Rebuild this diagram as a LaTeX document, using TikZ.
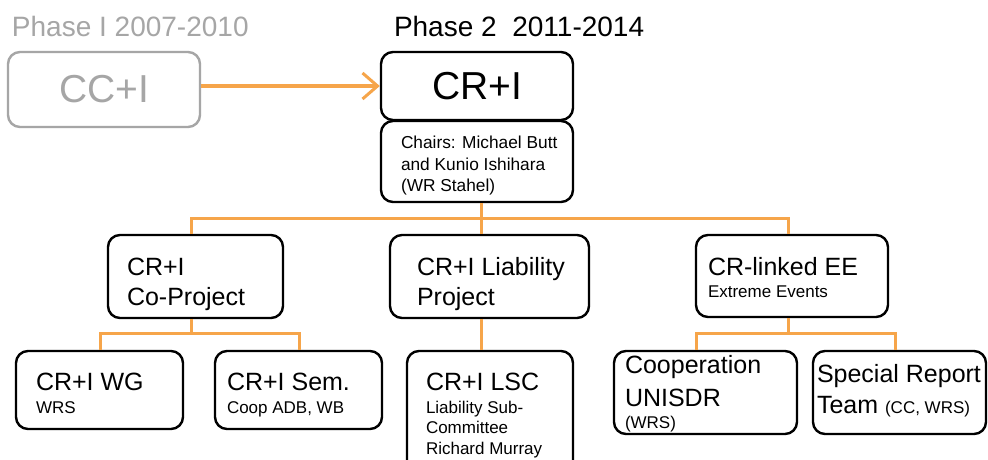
\documentclass[tikz,border=0pt]{standalone}
\usepackage{fontspec}
\setmainfont{Liberation Sans}
\usetikzlibrary{arrows.meta}
\definecolor{orgline}{HTML}{F6A54A}
\definecolor{phgray}{HTML}{A6A6A6}
\newcommand{\fbig}{\fontsize{39}{46}\selectfont}
\newcommand{\fphase}{\fontsize{28}{33}\selectfont}
\newcommand{\fmid}{\fontsize{25}{30}\selectfont}
\newcommand{\fsmall}{\fontsize{17}{20}\selectfont}
\newcommand{\fchair}{\fontsize{17.3}{21}\selectfont}
\begin{document}
\begin{tikzpicture}[x=1pt,y=-1pt,
  box/.style={draw=black, line width=2.4pt, rounded corners=12pt, fill=white, inner sep=0pt},
  conn/.style={draw=orgline, line width=3pt},
  txt/.style={anchor=base west, inner sep=0pt, outer sep=0pt}]
\useasboundingbox (0,0) rectangle (988,460);
\fill[white] (0,0) rectangle (988,460);

% phase labels
\node[txt, text=phgray, font=\fphase] (ph1) at (12,37) {Phase I 2007-2010};
\node[txt, font=\fphase] (ph2) at (394,37) {Phase 2\ \ 2011-2014};

% connectors
\coordinate (tm) at (481,218);
\coordinate (tl) at (191,218);
\coordinate (tr) at (788,218);
\coordinate (sm) at (191,333);
\coordinate (sl) at (100,333);
\coordinate (sr) at (299,333);
\coordinate (rm) at (788,333);
\coordinate (rl) at (696,333);
\coordinate (rr) at (895,333);

% boxes
\node[box, draw=phgray, minimum width=192pt, minimum height=75pt, text=phgray, font=\fbig] (cci) at (104,89.5) {CC+I};
\node[box, minimum width=192pt, minimum height=68pt, font=\fbig] (cri) at (477,86) {CR+I};
\node[box, minimum width=192pt, minimum height=81pt] (chairs) at (477,161.5) {};
\node[box, minimum width=175pt, minimum height=83pt] (cop) at (195.5,276.5) {};
\node[box, minimum width=199pt, minimum height=83pt] (lia) at (489.5,276.5) {};
\node[box, minimum width=192pt, minimum height=82pt] (ee) at (792,276) {};
\node[box, minimum width=167pt, minimum height=78pt] (wg) at (99.5,390) {};
\node[box, minimum width=167pt, minimum height=78pt] (sem) at (298.5,390) {};
\node[box, minimum width=166pt, minimum height=121pt] (lsc) at (490,411.5) {};
\node[box, minimum width=183pt, minimum height=83pt] (coop) at (705.5,392.5) {};
\node[box, minimum width=173pt, minimum height=83pt] (spr) at (899.5,392.5) {};

% arrow phase 1 -> phase 2
\draw[conn, -{Straight Barb[length=15pt,width=26pt,line width=3pt]}] (cri.west -| cci.east) -- (cri.west);

% tree level 1
\draw[conn] (tm |- chairs.south) -- (tm |- lia.north);
\draw[conn] (tl |- cop.north) -- (tl) -- (tr) -- (tr |- ee.north);
% tree level 2
\draw[conn] (sm |- cop.south) -- (sm);
\draw[conn] (sl |- wg.north) -- (sl) -- (sr) -- (sr |- sem.north);
\draw[conn] (tm |- lia.south) -- (tm |- lsc.north);
\draw[conn] (rm |- ee.south) -- (rm);
\draw[conn] (rl |- coop.north) -- (rl) -- (rr) -- (rr |- spr.north);

% texts
\node[txt, font=\fchair] (ch1) at (401,148) {Chairs: Michael Butt};
\node[txt, font=\fchair] (ch2) at (401,170) {and Kunio Ishihara};
\node[txt, font=\fchair] (ch3) at (401,191) {(WR Stahel)};

\node[txt, font=\fmid] (cop1) at (127,275) {CR+I};
\node[txt, font=\fmid] (cop2) at (127,305) {Co-Project};

\node[txt, font=\fmid] (lia1) at (417,275) {CR+I Liability};
\node[txt, font=\fmid] (lia2) at (417,305) {Project};

\node[txt, font=\fmid] (ee1) at (708,275) {CR-linked EE};
\node[txt, font=\fsmall] (ee2) at (708,297) {Extreme Events};

\node[txt, font=\fmid] (wg1) at (36,390) {CR+I WG};
\node[txt, font=\fsmall] (wg2) at (36,413) {WRS};

\node[txt, font=\fmid] (sem1) at (227,390) {CR+I Sem.};
\node[txt, font=\fsmall] (sem2) at (227,413) {Coop ADB, WB};

\node[txt, font=\fmid] (lsc1) at (426,390) {CR+I LSC};
\node[txt, font=\fsmall] (lsc2) at (426,413) {Liability Sub-};
\node[txt, font=\fsmall] (lsc3) at (426,433) {Committee};
\node[txt, font=\fsmall] (lsc4) at (426,454) {Richard Murray};

\node[txt, font=\fmid] (co1) at (625,373) {Cooperation};
\node[txt, font=\fmid] (co2) at (625,406) {UNISDR};
\node[txt, font=\fsmall] (co3) at (625,428) {(WRS)};

\node[txt, font=\fmid] (sp1) at (817,382) {Special Report};
\node[txt, font=\fmid] (sp2) at (817,413) {Team {\fsmall (CC, WRS)}};
\end{tikzpicture}
\end{document}
